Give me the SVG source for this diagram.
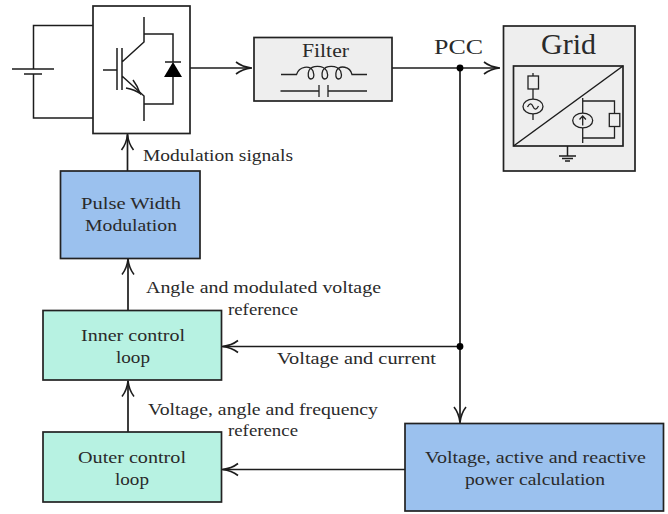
<svg xmlns="http://www.w3.org/2000/svg" width="668" height="514" viewBox="0 0 668 514">
<style>
text{font-family:"Liberation Serif","Times New Roman",serif;font-size:17.5px;fill:#2a2a2a;text-anchor:start}
.box{stroke:#222;stroke-width:1.7}
.w{fill:none;stroke:#1c1c1c;stroke-width:1.5;stroke-linecap:butt;stroke-linejoin:miter}
.t{fill:none;stroke:#222;stroke-width:1.3}
.c{fill:none;stroke:#1c1c1c;stroke-width:1.7}
.blue{fill:#9bc1ee}.green{fill:#b7f2e2}.grey{fill:#eeeeee}
</style>
<defs>
<marker id="a" markerUnits="userSpaceOnUse" markerWidth="24" markerHeight="20" refX="16" refY="8" orient="auto" overflow="visible">
<path d="M0 2C4.500 5.500 10 7.400 15.500 8C10 8.600 4.500 10.500 0 14" fill="none" stroke="#1c1c1c" stroke-width="1.600"/>
</marker>
</defs>
<g id="connectors">
<path class="c" d="M190 68H252" marker-end="url(#a)"/>
<path class="c" d="M392 68H500" marker-end="url(#a)"/>
<path class="c" d="M460 68V423" marker-end="url(#a)"/>
<path class="c" d="M460 346.500H222" marker-end="url(#a)"/>
<path class="c" d="M405 469.500H222" marker-end="url(#a)"/>
<path class="c" d="M127.500 171V134" marker-end="url(#a)"/>
<path class="c" d="M128 310.500V258.500" marker-end="url(#a)"/>
<path class="c" d="M128 432V380.500" marker-end="url(#a)"/>
<circle cx="460" cy="68" r="3.400" fill="#000" stroke="none"/>
<circle cx="460" cy="346.500" r="3.400" fill="#000" stroke="none"/>
</g>
<g id="battery">
<path class="w" d="M93 25.500H33.500V69M33.500 74V118H93M12 69H54M24 74H42"/>
</g>
<g id="inverter">
<rect class="box" x="93" y="6" width="97" height="127.500" fill="#fff"/>
<path class="w" d="M144 17V42L122 62M122 76L144 96V121M144 34H173V62M173 77V104H144M103 70H117M117 48V90M122 48V90M165 62H181"/>
<path d="M173 62L164 77H182Z" fill="#000"/>
<path class="w" d="M126 88C131 89 136 90.500 140 93.500C138.500 88 136 84 133 80"/>
</g>
<g id="filter">
<rect class="box grey" x="254" y="37.500" width="138" height="63.500"/>
<text x="302" y="57" style="font-size:18.500px" textLength="47" lengthAdjust="spacingAndGlyphs">Filter</text>
<path class="t" d="M281 74.500H296.500C299 66 310 65 313 71C315 77 313 79 311 79C308 79 307.500 74 309 70.500C312 65 323 65 326.800 71C328.800 77 326.800 79 324.800 79C321.800 79 321.300 74 322.800 70.500C325.800 65 336.800 65 340.600 71C342.600 77 340.600 79 338.600 79C335.600 79 335.100 74 336.600 70.500C339.600 65 350 66 352 74.500H367"/>
<path class="t" d="M280.500 91H319M319 85V97M328 85V97M328 91H367"/>
</g>
<text id="pcc" x="434" y="54" style="font-size:22px" textLength="49" lengthAdjust="spacingAndGlyphs">PCC</text>
<g id="grid">
<rect class="box grey" x="503.500" y="26" width="131.500" height="145"/>
<text x="541" y="54" style="font-size:29px" textLength="55" lengthAdjust="spacingAndGlyphs">Grid</text>
<rect class="box" x="513.500" y="66" width="109.500" height="80" fill="none"/>
<path class="w" d="M513.500 146L623 66"/>
<path class="t" d="M533 73V76M533 89V99M533 114V120"/>
<rect class="t" x="528" y="76" width="10.500" height="13"/>
<ellipse class="t" cx="533" cy="106.500" rx="10" ry="7.300"/>
<path class="t" d="M527.500 107C529.500 103 531.500 103 533 106.500C534.500 110 536.500 110 538.500 106"/>
<path class="t" d="M582.700 98V113M582.700 128V143M582.700 101H614.500V113.500M614.500 126.500V138H582.700"/>
<rect class="t" x="609.300" y="113.500" width="10.500" height="13"/>
<ellipse class="t" cx="582.700" cy="120.500" rx="10" ry="7.300"/>
<path class="t" d="M582.700 125.500V116M579.500 119.500L582.700 116L585.900 119.500"/>
<path class="w" d="M567.500 146V156M559 156H576M562 158.500H573M565 161H570"/>
</g>
<text id="modulation-signals" x="143" y="160.500" textLength="150" lengthAdjust="spacingAndGlyphs">Modulation signals</text>
<g id="pwm">
<rect class="box blue" x="60.500" y="171" width="139.500" height="87.500"/>
<text x="81" y="208.500" textLength="100" lengthAdjust="spacingAndGlyphs">Pulse Width</text>
<text x="85" y="230.500" textLength="92" lengthAdjust="spacingAndGlyphs">Modulation</text>
</g>
<g id="angle-label">
<text x="146" y="292.500" textLength="235" lengthAdjust="spacingAndGlyphs">Angle and modulated voltage</text>
<text x="228" y="314.500" textLength="70" lengthAdjust="spacingAndGlyphs">reference</text>
</g>
<g id="inner">
<rect class="box green" x="43" y="310.500" width="178.500" height="69.500"/>
<text x="81" y="340.500" textLength="104" lengthAdjust="spacingAndGlyphs">Inner control</text>
<text x="116" y="362.500" textLength="34" lengthAdjust="spacingAndGlyphs">loop</text>
</g>
<text id="voltage-current" x="277" y="363.500" textLength="159" lengthAdjust="spacingAndGlyphs">Voltage and current</text>
<g id="voltage-label">
<text x="148" y="414.500" textLength="230" lengthAdjust="spacingAndGlyphs">Voltage, angle and frequency</text>
<text x="228" y="435.500" textLength="70" lengthAdjust="spacingAndGlyphs">reference</text>
</g>
<g id="outer">
<rect class="box green" x="43" y="432" width="178.500" height="70"/>
<text x="78" y="462.500" textLength="108" lengthAdjust="spacingAndGlyphs">Outer control</text>
<text x="115" y="484.500" textLength="34" lengthAdjust="spacingAndGlyphs">loop</text>
</g>
<g id="calc">
<rect class="box blue" x="405" y="423.500" width="258.500" height="87.500"/>
<text x="425" y="462.500" textLength="221" lengthAdjust="spacingAndGlyphs">Voltage, active and reactive</text>
<text x="465" y="484.500" textLength="140" lengthAdjust="spacingAndGlyphs">power calculation</text>
</g>
</svg>
